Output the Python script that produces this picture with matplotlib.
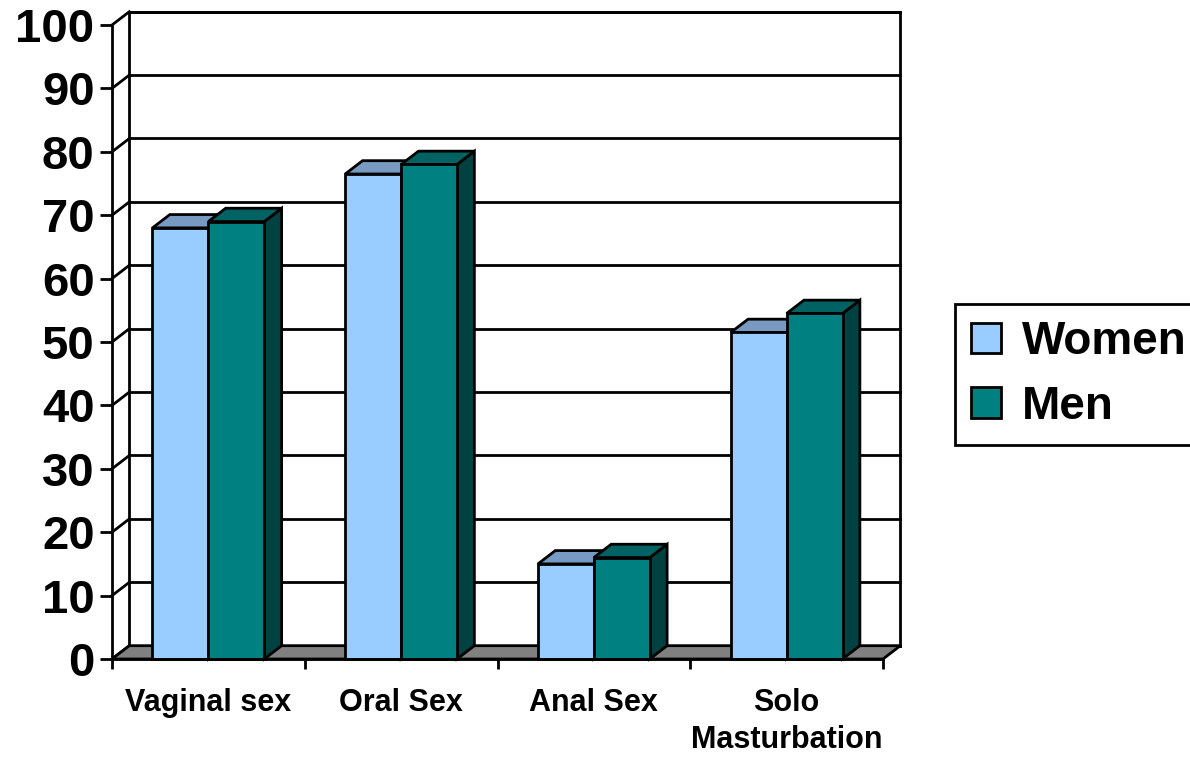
import matplotlib
matplotlib.use('Agg')
import matplotlib.pyplot as plt
from matplotlib.patches import Polygon, Rectangle, Patch

# Daten
categories = ['Vaginal sex', 'Oral Sex', 'Anal Sex', 'Solo\nMasturbation']
women = [68, 76.5, 15, 51.5]
men = [69, 78, 16, 54.5]
y_ticks = list(range(0, 101, 10))
series_names = ['Women', 'Men']

plt.rcParams['font.family'] = ['Liberation Sans', 'DejaVu Sans']
plt.rcParams['font.weight'] = 'bold'

W, H = 1190, 758
fig = plt.figure(figsize=(W / 100, H / 100), dpi=100)
ax = fig.add_axes([112 / W, (H - 659) / H, (883 - 112) / W, (659 - 25) / H])
ax.set_xlim(0, len(categories))
ax.set_ylim(0, 100)

dx, dy = 0.09, 2.1    # Tiefe der 3D-Box (Daten-Einheiten)
bw = 0.29             # Breite eines Balkens
lw = 2.0
n = len(categories)

# Rueckwand + Gitterlinien
ax.add_patch(Rectangle((dx, dy), n, 100, facecolor='white', edgecolor='black',
                       lw=lw, clip_on=False, zorder=1))
for v in y_ticks:
    ax.plot([dx, n + dx], [v + dy, v + dy], color='black', lw=lw, clip_on=False, zorder=1.5)
    ax.plot([0, dx], [v, v + dy], color='black', lw=lw, clip_on=False, zorder=1.5)

# Boden
ax.add_patch(Polygon([(0, 0), (n, 0), (n + dx, dy), (dx, dy)], closed=True,
                     facecolor='#808080', edgecolor='black', lw=lw, clip_on=False, zorder=2))


def draw_bar(x0, h, front, top, side):
    ax.add_patch(Polygon([(x0 + bw, 0), (x0 + bw + dx, dy), (x0 + bw + dx, h + dy), (x0 + bw, h)],
                         closed=True, facecolor=side, edgecolor='black', lw=lw, zorder=3, clip_on=False))
    ax.add_patch(Polygon([(x0, h), (x0 + dx, h + dy), (x0 + bw + dx, h + dy), (x0 + bw, h)],
                         closed=True, facecolor=top, edgecolor='black', lw=lw, zorder=3, clip_on=False))
    ax.add_patch(Rectangle((x0, 0), bw, h, facecolor=front, edgecolor='black',
                           lw=lw, zorder=3, clip_on=False))


for i in range(n):
    c = i + 0.5
    draw_bar(c - bw, women[i], '#99CCFF', '#7799C2', '#5F7FA0')
    draw_bar(c, men[i], '#008080', '#006262', '#004242')

# Achsen
for s in ['top', 'right']:
    ax.spines[s].set_visible(False)
for s in ['left', 'bottom']:
    ax.spines[s].set_linewidth(lw)
    ax.spines[s].set_zorder(4)

ax.set_yticks(y_ticks)
ax.set_yticklabels([str(v) for v in y_ticks], fontsize=34, fontweight='bold')
ax.tick_params(axis='y', length=8.6, width=lw, pad=4)

ax.set_xticks(range(n + 1))
ax.set_xticklabels([''] * (n + 1))
ax.tick_params(axis='x', which='major', length=7, width=lw)
ax.set_xticks([i + 0.5 for i in range(n)], minor=True)
ax.set_xticklabels(categories, minor=True, fontsize=22, fontweight='bold', linespacing=1.3)
ax.tick_params(axis='x', which='minor', length=0, pad=21)

# Legende
handles = [Patch(facecolor='#99CCFF', edgecolor='black', lw=lw),
           Patch(facecolor='#008080', edgecolor='black', lw=lw)]
leg = fig.legend(handles, series_names, loc='center left',
                 bbox_to_anchor=(955 / W, 1 - 374.5 / H), fontsize=33,
                 handlelength=0.65, handleheight=0.65, handletextpad=0.45,
                 labelspacing=0.45, borderpad=0.35, borderaxespad=0,
                 fancybox=False, edgecolor='black', framealpha=1)
leg.get_frame().set_linewidth(lw)
for t in leg.get_texts():
    t.set_fontweight('bold')

fig.savefig('out.png', dpi=100)
